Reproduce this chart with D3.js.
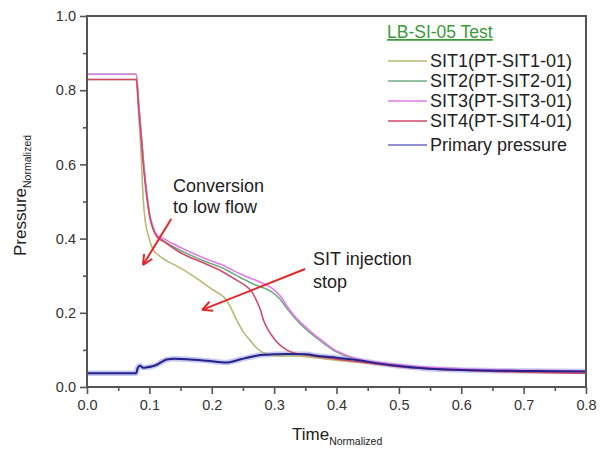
<!DOCTYPE html>
<html>
<head>
<meta charset="utf-8">
<script src="https://cdn.jsdelivr.net/npm/d3@7"></script>
<style>
  body { margin: 0; background: #fff; }
  svg { font-family: 'Liberation Sans', Arial, sans-serif; }
</style>
</head>
<body>
<div id="chart"></div>
<script>
// time / pressure pairs
const sit1Time = [0, 0.079, 0.083, 0.087, 0.09, 0.094, 0.098, 0.106, 0.115, 0.128, 0.145, 0.165, 0.185, 0.202, 0.215, 0.222, 0.23, 0.24, 0.25, 0.262, 0.272, 0.282, 0.3, 0.35, 0.4, 0.45, 0.5, 0.6, 0.7, 0.8]
const sit1Value = [0.829, 0.829, 0.73, 0.62, 0.51, 0.44, 0.41, 0.37, 0.355, 0.34, 0.325, 0.305, 0.282, 0.262, 0.248, 0.238, 0.215, 0.18, 0.15, 0.125, 0.105, 0.093, 0.085, 0.082, 0.072, 0.064, 0.056, 0.047, 0.043, 0.041]

const sit2Time = [0, 0.079, 0.083, 0.087, 0.092, 0.096, 0.101, 0.106, 0.112, 0.125, 0.15, 0.19, 0.218, 0.245, 0.267, 0.29, 0.3, 0.31, 0.32, 0.331, 0.342, 0.355, 0.369, 0.383, 0.395, 0.41, 0.425, 0.44, 0.46, 0.5, 0.6, 0.7, 0.8]
const sit2Value = [0.843, 0.843, 0.76, 0.68, 0.58, 0.52, 0.46, 0.43, 0.408, 0.392, 0.368, 0.338, 0.32, 0.296, 0.277, 0.262, 0.252, 0.236, 0.213, 0.19, 0.17, 0.15, 0.131, 0.113, 0.099, 0.087, 0.078, 0.071, 0.066, 0.058, 0.048, 0.044, 0.042]

const sit3Time = [0, 0.079, 0.083, 0.087, 0.092, 0.096, 0.101, 0.106, 0.112, 0.125, 0.138, 0.15, 0.165, 0.19, 0.218, 0.245, 0.272, 0.29, 0.3, 0.31, 0.32, 0.331, 0.342, 0.355, 0.369, 0.383, 0.395, 0.41, 0.425, 0.44, 0.46, 0.5, 0.6, 0.7, 0.8]
const sit3Value = [0.843, 0.843, 0.76, 0.68, 0.58, 0.52, 0.46, 0.43, 0.41, 0.398, 0.386, 0.376, 0.364, 0.346, 0.328, 0.305, 0.287, 0.273, 0.262, 0.245, 0.22, 0.195, 0.175, 0.155, 0.135, 0.117, 0.102, 0.09, 0.08, 0.073, 0.068, 0.06, 0.049, 0.045, 0.043]

const sit4Time = [0, 0.079, 0.083, 0.087, 0.092, 0.096, 0.101, 0.106, 0.112, 0.125, 0.15, 0.19, 0.218, 0.24, 0.25, 0.258, 0.265, 0.272, 0.278, 0.283, 0.29, 0.3, 0.31, 0.32, 0.335, 0.353, 0.4, 0.45, 0.5, 0.6, 0.7, 0.8]
const sit4Value = [0.829, 0.829, 0.75, 0.67, 0.57, 0.51, 0.455, 0.425, 0.405, 0.39, 0.362, 0.332, 0.31, 0.288, 0.278, 0.268, 0.255, 0.232, 0.208, 0.18, 0.155, 0.13, 0.112, 0.1, 0.09, 0.086, 0.075, 0.065, 0.055, 0.045, 0.04, 0.037]

const primaryTime = [0, 0.079, 0.081, 0.085, 0.09, 0.096, 0.105, 0.112, 0.12, 0.128, 0.14, 0.16, 0.192, 0.224, 0.245, 0.26, 0.278, 0.3, 0.32, 0.35, 0.374, 0.4, 0.427, 0.443, 0.47, 0.497, 0.55, 0.6, 0.657, 0.72, 0.8]
const primaryValue = [0.037, 0.037, 0.05, 0.057, 0.052, 0.053, 0.056, 0.06, 0.068, 0.074, 0.076, 0.075, 0.071, 0.066, 0.074, 0.08, 0.086, 0.088, 0.089, 0.088, 0.083, 0.079, 0.074, 0.07, 0.063, 0.057, 0.049, 0.046, 0.044, 0.043, 0.042]

const seriesNames = ['SIT1(PT-SIT1-01)', 'SIT2(PT-SIT2-01)', 'SIT3(PT-SIT3-01)', 'SIT4(PT-SIT4-01)', 'Primary pressure']
const seriesColors = ['#b9b874', '#6fae80', '#e27ae6', '#d24a6a', '#6b6bc4']
const xTicks = [0, 0.1, 0.2, 0.3, 0.4, 0.5, 0.6, 0.7, 0.8]
const yTicks = [0, 0.2, 0.4, 0.6, 0.8, 1.0]

// annotations: text lines and arrow (start, end) in data units
const notes = [
  { lines: ['Conversion', 'to low flow'], t: 0.138, p: [0.526, 0.469], from: [0.135, 0.453], to: [0.0898, 0.329] },
  { lines: ['SIT injection', 'stop'], t: 0.3625, p: [0.329, 0.267], from: [0.3497, 0.318], to: [0.1845, 0.208] }
]

const width = 600
const height = 450
const margin = { top: 16, right: 14, bottom: 63, left: 87 }

const svg = d3.select('#chart').append('svg')
  .attr('width', width)
  .attr('height', height)

const x = d3.scaleLinear().domain([0, 0.8]).range([margin.left, width - margin.right])
const y = d3.scaleLinear().domain([0, 1]).range([height - margin.bottom, margin.top])

const line = d3.line()
  .x(d => x(d[0]))
  .y(d => y(d[1]))
  .curve(d3.curveMonotoneX)

const series = [
  d3.zip(sit1Time, sit1Value),
  d3.zip(sit2Time, sit2Value),
  d3.zip(sit3Time, sit3Value),
  d3.zip(sit4Time, sit4Value),
  d3.zip(primaryTime, primaryValue)
]

const plot = svg.append('g')

// primary pressure has a light band round a dark line
plot.append('path')
  .attr('d', line(series[4]))
  .attr('fill', 'none')
  .attr('stroke', '#9a9ae2')
  .attr('stroke-width', 5.5)
  .attr('stroke-opacity', 0.55)

series.slice(0, 4).forEach((s, i) => {
  plot.append('path')
    .attr('d', line(s))
    .attr('fill', 'none')
    .attr('stroke', seriesColors[i])
    .attr('stroke-width', 1.6)
})

plot.append('path')
  .attr('d', line(series[4]))
  .attr('fill', 'none')
  .attr('stroke', '#22228e')
  .attr('stroke-width', 2)

// axes
const axisColor = '#555'
const xAxis = svg.append('g')
  .attr('transform', `translate(0,${y(0)})`)
  .call(d3.axisBottom(x).tickValues(xTicks).tickFormat(d3.format('.1f')).tickSize(7).tickPadding(6))
xAxis.append('g')
  .call(d3.axisBottom(x).tickValues(d3.range(0.05, 0.8, 0.1)).tickFormat('').tickSize(4))

const yAxis = svg.append('g')
  .attr('transform', `translate(${x(0)},0)`)
  .call(d3.axisLeft(y).tickValues(yTicks).tickFormat(d3.format('.1f')).tickSize(7).tickPadding(4))
yAxis.append('g')
  .call(d3.axisLeft(y).tickValues([0.1, 0.3, 0.5, 0.7, 0.9]).tickFormat('').tickSize(4))

svg.selectAll('.domain').attr('stroke', 'none')
svg.selectAll('.tick line').attr('stroke', axisColor).attr('stroke-width', 1.6)
svg.selectAll('.tick text').attr('font-size', 14.5).attr('fill', '#333').attr('font-family', null)

svg.append('rect')
  .attr('x', x(0))
  .attr('y', y(1))
  .attr('width', x(0.8) - x(0))
  .attr('height', y(0) - y(1))
  .attr('fill', 'none')
  .attr('stroke', axisColor)
  .attr('stroke-width', 2)

// axis titles
const xt = svg.append('text')
  .attr('x', 292)
  .attr('y', 440)
  .attr('font-size', 17)
  .attr('fill', '#222')
xt.append('tspan').text('Time')
xt.append('tspan').attr('font-size', 10.5).attr('dy', 5).text('Normalized')

const yt = svg.append('text')
  .attr('transform', 'translate(26,256) rotate(-90)')
  .attr('font-size', 17)
  .attr('fill', '#222')
yt.append('tspan').text('Pressure')
yt.append('tspan').attr('font-size', 10.5).attr('dy', 5).text('Normalized')

// legend
const legend = svg.append('g').attr('transform', 'translate(387,0)')
legend.append('text')
  .attr('x', 0)
  .attr('y', 38)
  .attr('font-size', 17.5)
  .attr('fill', '#3c9a3c')
  .attr('text-decoration', 'underline')
  .text('LB-SI-05 Test')

const rowY = [61, 81, 101, 121, 145]
seriesNames.forEach((name, i) => {
  legend.append('line')
    .attr('x1', 1).attr('x2', 40)
    .attr('y1', rowY[i]).attr('y2', rowY[i])
    .attr('stroke', seriesColors[i])
    .attr('stroke-width', 1.6)
  legend.append('text')
    .attr('x', 43)
    .attr('y', rowY[i] + 6)
    .attr('font-size', 18)
    .attr('fill', '#222')
    .text(name)
})

// annotations with red arrows
const arrowColor = '#e3262a'
notes.forEach(n => {
  n.lines.forEach((t, i) => {
    svg.append('text')
      .attr('x', x(n.t))
      .attr('y', y(n.p[i]))
      .attr('font-size', 18)
      .attr('fill', '#222')
      .text(t)
  })
  const x1 = x(n.from[0]); const y1 = y(n.from[1])
  const x2 = x(n.to[0]); const y2 = y(n.to[1])
  const ang = Math.atan2(y2 - y1, x2 - x1)
  const head = 11
  svg.append('line')
    .attr('x1', x1).attr('y1', y1).attr('x2', x2).attr('y2', y2)
    .attr('stroke', arrowColor).attr('stroke-width', 2)
  ;[-0.45, 0.45].forEach(a => {
    svg.append('line')
      .attr('x1', x2).attr('y1', y2)
      .attr('x2', x2 - head * Math.cos(ang + a))
      .attr('y2', y2 - head * Math.sin(ang + a))
      .attr('stroke', arrowColor).attr('stroke-width', 2)
  })
})
</script>
</body>
</html>
